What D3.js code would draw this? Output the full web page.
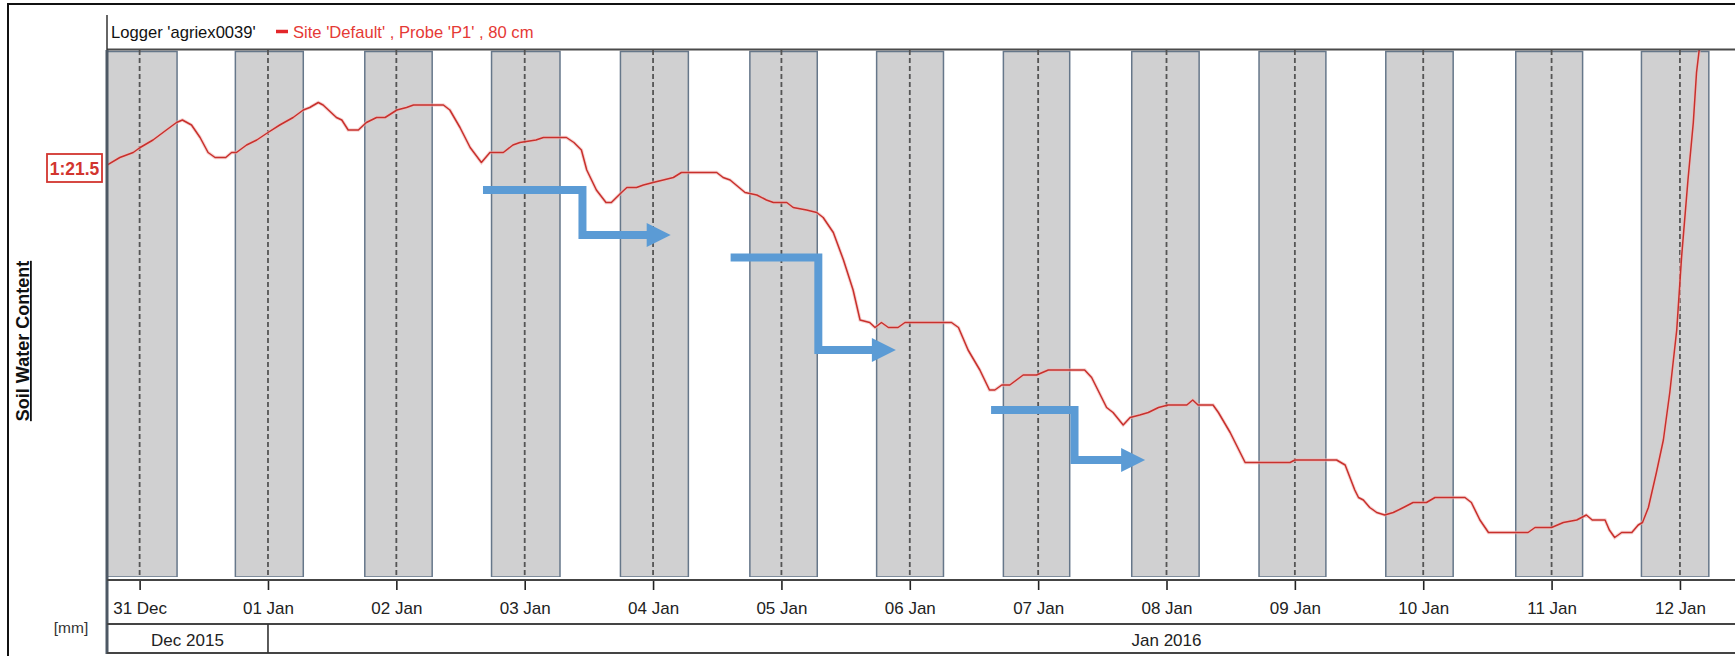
<!DOCTYPE html>
<html><head><meta charset="utf-8">
<script src="https://cdn.jsdelivr.net/npm/d3@7"></script>
<style>
html,body{margin:0;padding:0;background:#fff;}
svg{display:block;font-family:"Liberation Sans",Arial,sans-serif;}
</style></head><body>
<svg id="chart" width="1735" height="656"></svg>
<script>
// ---------------- DATA ----------------
// time is given in hours after 31 Dec 2015 00:00
const baseTimeUTC = Date.UTC(2015, 11, 31, 0, 0);
const viewStartHours = -6.1;     // left edge of the plot window
const viewEndHours = 360;        // right edge (15 Jan 00:00, beyond the picture)

const loggerName = "Logger 'agriex0039'";
const seriesName = "Site 'Default' , Probe 'P1' , 80 cm";
const yAxisTitle = "Soil Water Content";
const yUnit = "[mm]";
const markerLabel = "1:21.5";
const markerValue = 21.5;
const valueDomain = [19.852, 21.96];

// day ticks (midnight) and their labels
const dayTickHours = [0, 24, 48, 72, 96, 120, 144, 168, 192, 216, 240, 264, 288];
const dayTickLabels = ["31 Dec","01 Jan","02 Jan","03 Jan","04 Jan","05 Jan","06 Jan",
                       "07 Jan","08 Jan","09 Jan","10 Jan","11 Jan","12 Jan"];

// month row
const monthLabels = ["Dec 2015", "Jan 2016"];
const monthStartHours = [-6.1, 24];
const monthEndHours = [24, 360];

// night (shaded) periods
const nightStartHours = [-6.3, 17.9, 42.1, 65.8, 89.9, 114.1, 137.8, 161.5, 185.5, 209.3, 233.0, 257.3, 280.8];
const nightEndHours   = [7.0, 30.6, 54.7, 78.6, 102.6, 126.7, 150.3, 173.9, 198.1, 221.8, 245.6, 269.8, 293.4];

// soil water content series: [hours, mm]
const swcSeries = [
[-6.1,21.50],[-3.7,21.53],[-1.2,21.55],[0.1,21.57],[2.5,21.60],[5.0,21.64],[6.9,21.67],[8.0,21.68],[9.7,21.66],[11.3,21.61],[12.8,21.55],[14.1,21.53],[16.1,21.53],[17.2,21.55],[18.1,21.55],[20.0,21.58],[21.9,21.60],[24.0,21.63],[26.2,21.66],[28.7,21.69],[30.6,21.72],[31.8,21.73],[33.4,21.75],[34.3,21.74],[36.8,21.69],[37.8,21.68],[39.0,21.64],[40.9,21.64],[42.4,21.67],[44.3,21.69],[45.9,21.69],[48.1,21.72],[49.9,21.73],[51.2,21.74],[56.8,21.74],[58.0,21.72],[59.9,21.65],[61.8,21.57],[63.9,21.51],[65.5,21.55],[68.0,21.55],[69.8,21.58],[71.1,21.59],[74.1,21.60],[75.5,21.61],[79.8,21.61],[81.2,21.59],[82.6,21.56],[83.6,21.48],[85.4,21.40],[87.2,21.35],[88.2,21.35],[90.1,21.39],[91.1,21.41],[92.9,21.41],[94.2,21.42],[96.0,21.43],[97.9,21.44],[99.8,21.45],[101.3,21.47],[107.9,21.47],[109.1,21.45],[110.4,21.44],[113.2,21.39],[115.4,21.38],[117.2,21.36],[118.5,21.35],[121.0,21.35],[122.2,21.33],[124.7,21.32],[126.6,21.31],[127.8,21.29],[129.7,21.23],[131.6,21.12],[133.4,21.00],[134.7,20.88],[136.5,20.87],[137.5,20.85],[138.7,20.87],[140.0,20.85],[141.8,20.85],[143.1,20.87],[151.8,20.87],[153.1,20.85],[154.9,20.76],[157.1,20.68],[158.9,20.60],[159.9,20.60],[161.2,20.62],[162.7,20.62],[165.2,20.66],[167.7,20.66],[169.9,20.68],[176.7,20.68],[178.0,20.65],[180.8,20.53],[182.0,20.51],[183.9,20.46],[185.2,20.49],[187.0,20.50],[188.6,20.51],[190.5,20.53],[192.3,20.54],[195.8,20.54],[196.9,20.56],[197.9,20.54],[200.7,20.54],[201.7,20.51],[203.9,20.43],[206.7,20.31],[215.1,20.31],[216.0,20.32],[223.8,20.32],[225.4,20.30],[227.2,20.20],[227.9,20.17],[228.8,20.16],[230.0,20.13],[231.3,20.11],[232.8,20.10],[234.4,20.11],[236.3,20.13],[238.1,20.15],[240.6,20.15],[242.2,20.17],[247.8,20.17],[249.0,20.15],[250.6,20.08],[252.2,20.03],[259.6,20.03],[260.9,20.05],[264.0,20.05],[266.2,20.07],[268.7,20.08],[269.6,20.09],[270.5,20.10],[271.6,20.08],[274.0,20.08],[274.8,20.04],[275.8,20.01],[277.1,20.03],[279.0,20.03],[280.2,20.06],[281.0,20.07],[282.1,20.13],[283.6,20.27],[284.9,20.40],[286.1,20.59],[287.4,20.84],[288.3,21.13],[289.5,21.44],[290.5,21.67],[291.1,21.87],[291.6,21.96],[292.2,22.04]
];

// blue step arrows (annotations): start hour, elbow hour, tip hour, upper value, lower value
const arrowStartHours = [64.2, 110.5, 159.2];
const arrowElbowHours = [82.8, 126.9, 174.8];
const arrowTipHours   = [99.3, 141.4, 188.0];
const arrowUpperValues = [21.40, 21.13, 20.52];
const arrowLowerValues = [21.22, 20.76, 20.32];

// ---------------- LAYOUT ----------------
const W = 1735, H = 656;
const plotL = 107, plotT = 50, plotB = 577, axisY = 580;
const pxPerDay = 128.36;
const plotRfull = plotL + (viewEndHours - viewStartHours) / 24 * pxPerDay;

const T = h => new Date(baseTimeUTC + h * 3600e3);
const x = d3.scaleUtc().domain([T(viewStartHours), T(viewEndHours)]).range([plotL, plotRfull]);
const y = d3.scaleLinear().domain(valueDomain).range([plotB, plotT]);

const svg = d3.select("#chart");

svg.append("defs").append("clipPath").attr("id", "plotClip")
  .append("rect").attr("x", plotL).attr("y", plotT).attr("width", W - plotL).attr("height", plotB - plotT);

// outer frame
svg.append("rect").attr("x", 8).attr("y", 4).attr("width", W + 20).attr("height", H + 20)
  .attr("fill", "none").attr("stroke", "#111").attr("stroke-width", 2);

const plot = svg.append("g").attr("clip-path", "url(#plotClip)");

// night bands
plot.selectAll("rect.night").data(nightStartHours.map((s, i) => [s, nightEndHours[i]]))
  .join("rect").attr("class", "night")
  .attr("x", d => x(T(d[0]))).attr("width", d => x(T(d[1])) - x(T(d[0])))
  .attr("y", plotT + 1.5).attr("height", plotB - plotT - 1.5)
  .attr("fill", "#d0d0d1").attr("stroke", "#66778a").attr("stroke-width", 1.5);

// dashed midnight lines
plot.selectAll("line.mid").data(dayTickHours).join("line").attr("class", "mid")
  .attr("x1", d => x(T(d))).attr("x2", d => x(T(d)))
  .attr("y1", plotT).attr("y2", plotB)
  .attr("stroke", "#555").attr("stroke-width", 1.8).attr("stroke-dasharray", "5,3");

// series line
const line = d3.line().x(d => x(T(d[0]))).y(d => y(d[1]));
plot.append("path").datum(swcSeries).attr("d", line)
  .attr("fill", "none").attr("stroke", "#f2b8b5").attr("stroke-width", 3.4).attr("opacity", 0.6);
plot.append("path").datum(swcSeries).attr("d", line)
  .attr("fill", "none").attr("stroke", "#c8302c").attr("stroke-width", 1.5).attr("stroke-linejoin", "round");

// blue arrows
const blue = "#5b9bd5";
arrowStartHours.forEach((s, i) => {
  const x0 = x(T(s)), xe = x(T(arrowElbowHours[i])), xt = x(T(arrowTipHours[i]));
  const y1 = y(arrowUpperValues[i]), y2 = y(arrowLowerValues[i]);
  const base = xt - 24;
  svg.append("path").attr("d", `M${x0},${y1}H${xe}V${y2}H${base + 1}`)
    .attr("fill", "none").attr("stroke", blue).attr("stroke-width", 8).attr("stroke-linejoin", "miter");
  svg.append("path").attr("d", `M${base},${y2 - 12}L${xt},${y2}L${base},${y2 + 12}Z`).attr("fill", blue);
});

// frame lines of plot
svg.append("line").attr("x1", plotL).attr("x2", W).attr("y1", plotT - 0.5).attr("y2", plotT - 0.5)
  .attr("stroke", "#4a4a4a").attr("stroke-width", 2);
svg.append("line").attr("x1", plotL).attr("x2", plotL).attr("y1", 15).attr("y2", plotT)
  .attr("stroke", "#333").attr("stroke-width", 1.5);
svg.append("line").attr("x1", plotL).attr("x2", plotL).attr("y1", plotT).attr("y2", 654)
  .attr("stroke", "#4d5864").attr("stroke-width", 3);

// legend
svg.append("text").attr("x", 111).attr("y", 37.5).attr("font-size", 16.6).attr("fill", "#111").text(loggerName);
svg.append("line").attr("x1", 276).attr("x2", 288).attr("y1", 31.5).attr("y2", 31.5)
  .attr("stroke", "#e3262a").attr("stroke-width", 3.5);
svg.append("text").attr("x", 293).attr("y", 37.5).attr("font-size", 16.6).attr("fill", "#e53935").text(seriesName);

// marker label box
const mY = y(markerValue);
svg.append("rect").attr("x", 47).attr("y", mY - 11).attr("width", 55).attr("height", 28)
  .attr("fill", "#fff").attr("stroke", "#d2352f").attr("stroke-width", 1.8);
svg.append("text").attr("x", 74.5).attr("y", mY + 9.5).attr("text-anchor", "middle")
  .attr("font-size", 17.5).attr("font-weight", "bold").attr("fill", "#d2352f").text(markerLabel);

// y title and unit
svg.append("text").attr("transform", "translate(29,341) rotate(-90)").attr("text-anchor", "middle")
  .attr("font-size", 18).attr("font-weight", "bold").attr("fill", "#111")
  .style("text-decoration", "underline").text(yAxisTitle);
svg.append("text").attr("x", 71).attr("y", 633).attr("text-anchor", "middle")
  .attr("font-size", 15.5).attr("fill", "#333").text(yUnit);

// x axis (days)
const axis = d3.axisBottom(x).tickValues(dayTickHours.map(T))
  .tickFormat((d, i) => dayTickLabels[i]).tickSize(10).tickPadding(12);
const gx = svg.append("g").attr("transform", `translate(0,${axisY})`).call(axis);
gx.select(".domain").remove();
gx.selectAll(".tick line").attr("stroke", "#222").attr("stroke-width", 1.6);
gx.selectAll(".tick text").attr("font-size", 17).attr("fill", "#222")
  .attr("font-family", "'Liberation Sans',Arial,sans-serif");

svg.append("line").attr("x1", plotL).attr("x2", W).attr("y1", axisY).attr("y2", axisY)
  .attr("stroke", "#444").attr("stroke-width", 2);
svg.append("line").attr("x1", plotL).attr("x2", W).attr("y1", 624).attr("y2", 624)
  .attr("stroke", "#444").attr("stroke-width", 2);
svg.append("line").attr("x1", plotL).attr("x2", W).attr("y1", 653).attr("y2", 653)
  .attr("stroke", "#444").attr("stroke-width", 2);

// month row
monthLabels.forEach((m, i) => {
  const a = x(T(monthStartHours[i])), b = x(T(monthEndHours[i]));
  if (i > 0) svg.append("line").attr("x1", a).attr("x2", a).attr("y1", 624).attr("y2", 653)
    .attr("stroke", "#333").attr("stroke-width", 1.6);
  svg.append("text").attr("x", (a + b) / 2).attr("y", 645.5).attr("text-anchor", "middle")
    .attr("font-size", 17).attr("fill", "#222").text(m);
});
</script>
</body></html>
